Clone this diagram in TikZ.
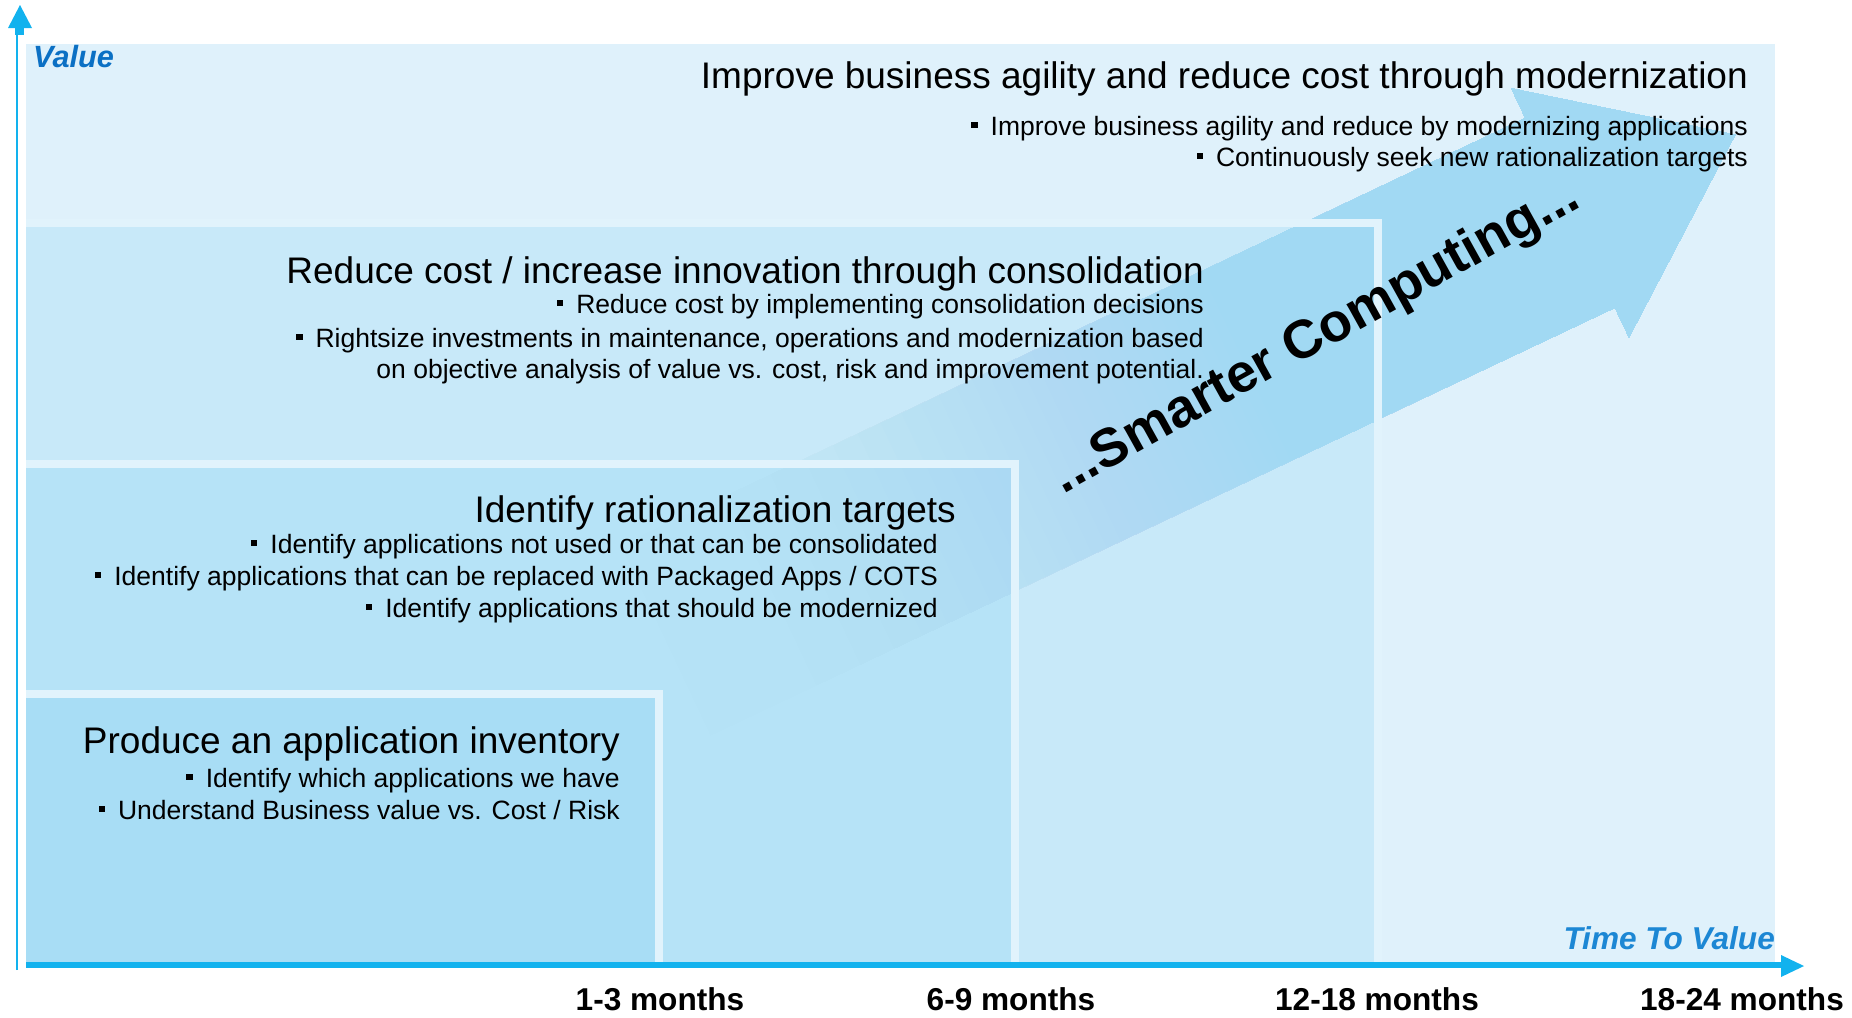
\documentclass[tikz,border=0pt]{standalone}
\usepackage{fontspec}
\setmainfont{Liberation Sans}
\definecolor{bgA}{HTML}{DFF1FB}
\definecolor{bgB}{HTML}{C8E9F9}
\definecolor{bgC}{HTML}{B6E3F7}
\definecolor{bgD}{HTML}{A8DDF5}
\definecolor{brd}{HTML}{E1F3FC}
\definecolor{arr}{HTML}{A1D9F3}
\definecolor{axisc}{HTML}{12B2EE}
\definecolor{valc}{HTML}{0B70C4}
\definecolor{ttvc}{HTML}{1C87D4}
\newcommand{\bsq}{\rule[7pt]{6.5pt}{6.5pt}\hspace{13pt}}
\begin{document}
\begin{tikzpicture}[x=1pt,y=-1pt,
  titletxt/.style={anchor=base east, inner sep=0pt, font=\fontsize{37}{40}\selectfont},
  bullettxt/.style={anchor=base east, inner sep=0pt, font=\fontsize{26.5}{30}\selectfont},
  monthtxt/.style={anchor=base, inner sep=0pt, font=\fontsize{31.6}{34}\selectfont\bfseries},
  axistxt/.style={inner sep=0pt, font=\fontsize{31.6}{34}\selectfont\bfseries\itshape},
  border/.style={draw=brd, line width=8pt},
  axisline/.style={draw=axisc}]
\useasboundingbox (0,0) rectangle (1852,1017);
% level fills
\fill[bgA] (26,44) rectangle (1775,962);
\fill[bgB] (26,219) rectangle (1381,962);
\fill[bgC] (26,460) rectangle (1019,962);
\fill[bgD] (26,690) rectangle (662,962);
% big arrow
\begin{scope}[shift={(1570,213)}, rotate=25.3]
  \path[clip] (-1117,-105) -- (0,-105) -- (0,-138) -- (183,0) -- (0,138) -- (0,105) -- (-1117,105) -- cycle;
  \foreach \i in {0,...,59} {
    \fill[arr, fill opacity=0.042] ({-1000+900*sqrt(\i/59)},-150) rectangle (200,150);
  }
\end{scope}
% borders
\draw[border] (26,223) -- (1377.5,223) -- (1377.5,962);
\draw[border] (26,464) -- (1015,464) -- (1015,962);
\draw[border] (26,694) -- (658.5,694) -- (658.5,962);
% texts level 1
\node[titletxt] (t1) at (1748,88) {Improve business agility and reduce cost through modernization};
\node[bullettxt] (t1a) at (1748,135) {\bsq Improve business agility and reduce by modernizing applications};
\node[bullettxt] (t1b) at (1748,166) {\bsq Continuously seek new rationalization targets};
% level 2
\node[titletxt] (t2) at (1204,283) {Reduce cost / increase innovation through consolidation};
\node[bullettxt] (t2a) at (1204,313) {\bsq Reduce cost by implementing consolidation decisions};
\node[bullettxt] (t2b) at (1204,347) {\bsq Rightsize investments in maintenance, operations and modernization based};
\node[bullettxt] (t2c) at (1204,378) {on objective analysis of value vs. cost, risk and improvement potential.};
% level 3
\node[titletxt] (t3) at (956,522) {Identify rationalization targets};
\node[bullettxt] (t3a) at (938,553) {\bsq Identify applications not used or that can be consolidated};
\node[bullettxt] (t3b) at (938,585) {\bsq Identify applications that can be replaced with Packaged Apps / COTS};
\node[bullettxt] (t3c) at (938,617) {\bsq Identify applications that should be modernized};
% level 4
\node[titletxt] (t4) at (620,753) {Produce an application inventory};
\node[bullettxt] (t4a) at (620,787) {\bsq Identify which applications we have};
\node[bullettxt] (t4b) at (620,819) {\bsq Understand Business value vs. Cost / Risk};
% smarter computing
\node[anchor=base, rotate=29, inner sep=0pt, font=\fontsize{54}{56}\selectfont\bfseries] (sc) at (1323,350) {...Smarter Computing...};
% axis labels
\node[axistxt, anchor=base west, text=valc, font=\fontsize{30.7}{33}\selectfont\bfseries\itshape] (val) at (33,67) {Value};
\node[axistxt, anchor=base east, text=ttvc] (ttv) at (1775,949) {Time To Value};
% months
\node[monthtxt] (m1) at (660,1010) {1-3 months};
\node[monthtxt] (m2) at (1011,1010) {6-9 months};
\node[monthtxt] (m3) at (1377,1010) {12-18 months};
\node[monthtxt] (m4) at (1742,1010) {18-24 months};
% axes
\coordinate (yb) at (17,970);
\coordinate (yt) at (17,35);
\coordinate (xl) at (26,965);
\coordinate (xr) at (1782,965);
\draw[axisline, line width=2.5pt] (yb) -- (yt);
\fill[axisc] (15,27) rectangle (24,35);
\fill[axisc] (8,28) -- (32,28) -- (20,5) -- cycle;
\draw[axisline, line width=6pt] (xl) -- (xr);
\fill[axisc] (1781,955) -- (1781,977) -- (1804,966) -- cycle;
\end{tikzpicture}
\end{document}
